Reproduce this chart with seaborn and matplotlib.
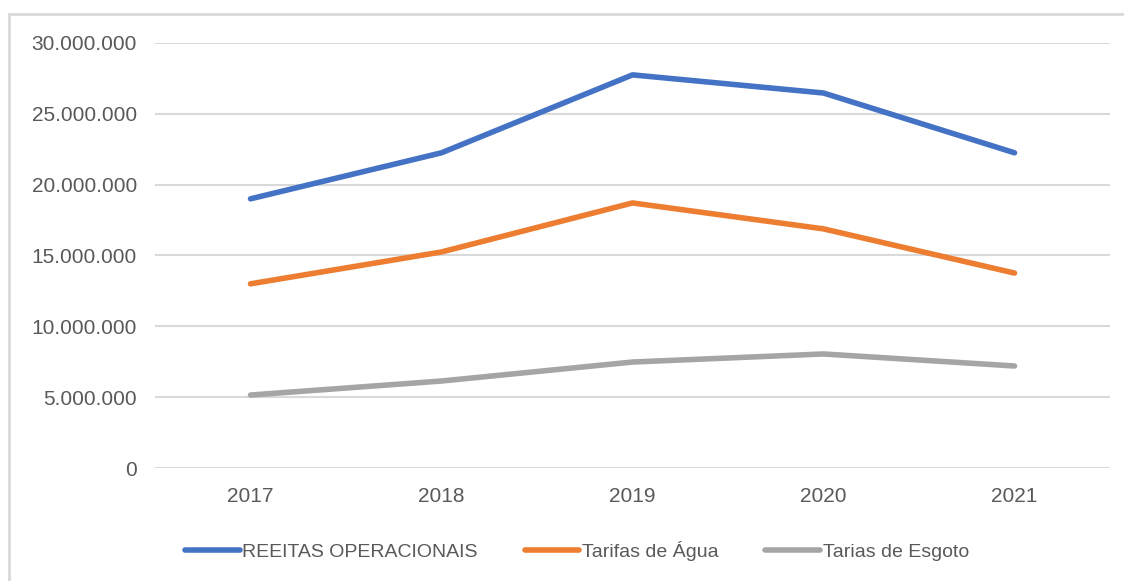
import matplotlib
matplotlib.use("Agg")
import matplotlib.pyplot as plt
from matplotlib.ticker import FuncFormatter
from matplotlib.patches import Rectangle
import seaborn as sns
import pandas as pd

years = [2017, 2018, 2019, 2020, 2021]
receitas = [19_000_000, 22_250_000, 27_750_000, 26_470_000, 22_250_000]
tarifas_agua = [13_000_000, 15_250_000, 18_710_000, 16_880_000, 13_760_000]
tarifas_esgoto = [5_150_000, 6_140_000, 7_480_000, 8_050_000, 7_200_000]
series_names = ["REEITAS OPERACIONAIS", "Tarifas de Água", "Tarias de Esgoto"]
colors = ["#4472C4", "#ED7D31", "#A5A5A5"]
y_ticks = [0, 5_000_000, 10_000_000, 15_000_000, 20_000_000, 25_000_000, 30_000_000]

df = pd.DataFrame({
    "ano": years * 3,
    "valor": receitas + tarifas_agua + tarifas_esgoto,
    "serie": [series_names[0]] * 5 + [series_names[1]] * 5 + [series_names[2]] * 5,
})

sns.set_theme(style="white")
plt.rcParams["font.family"] = ["Liberation Sans", "DejaVu Sans"]
text_color = "#595959"
grid_color = "#D9D9D9"

fig = plt.figure(figsize=(11.24, 5.81), dpi=100)
ax = fig.add_axes([155 / 1124, 1 - 468 / 581, 955 / 1124, 425 / 581])

sns.lineplot(data=df, x="ano", y="valor", hue="serie", hue_order=series_names,
             palette=colors, linewidth=4, ax=ax, legend=False,
             solid_capstyle="round")

ax.set_xlim(2016.5, 2021.5)
ax.set_ylim(0, 30_000_000)
ax.set_xticks(years)
ax.set_xticklabels([str(y) for y in years])
ax.set_yticks(y_ticks)
ax.yaxis.set_major_formatter(FuncFormatter(lambda v, _: f"{int(v):,}".replace(",", ".")))
ax.set_xlabel("")
ax.set_ylabel("")
for s in ax.spines.values():
    s.set_visible(False)
ax.yaxis.grid(True, color=grid_color, linewidth=1.5)
ax.xaxis.grid(False)
ax.set_axisbelow(True)
ax.tick_params(axis="both", length=0, labelsize=15, colors=text_color)
ax.tick_params(axis="y", pad=13)
ax.tick_params(axis="x", pad=14)

handles = [plt.Line2D([], [], color=c, linewidth=4, solid_capstyle="round") for c in colors]
fig.legend(handles, series_names, loc="center", bbox_to_anchor=(577 / 1124, 1 - 551 / 581),
           ncol=3, frameon=False, fontsize=14, labelcolor=text_color,
           handlelength=2.8, handletextpad=0.15, columnspacing=2.4)

fig.patches.append(Rectangle((9 / 1124, -0.1), 1.2, (581 - 14) / 581 + 0.1,
                             transform=fig.transFigure, fill=False,
                             edgecolor=grid_color, linewidth=2))

fig.savefig("out.png", dpi=100, facecolor="white")
